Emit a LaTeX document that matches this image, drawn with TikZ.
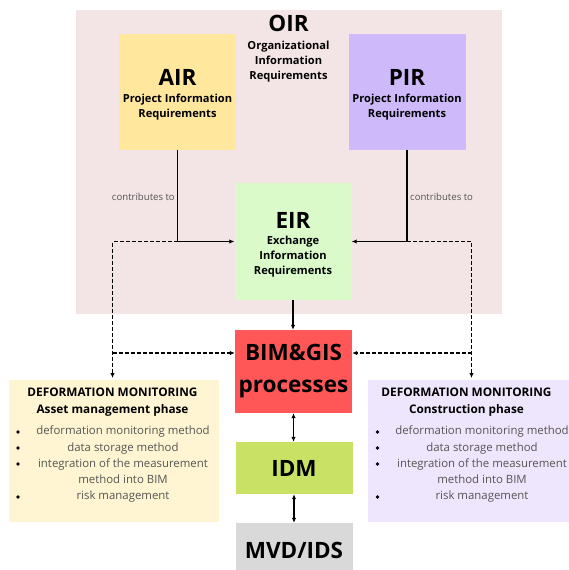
\documentclass[tikz,border=0pt]{standalone}
\usepackage{fontspec}
\setmainfont{Open Sans}
\usepackage{xcolor}
\usepackage{tikz}
\usetikzlibrary{arrows.meta}
\definecolor{oirbg}{HTML}{F3E5E6}
\definecolor{airyellow}{HTML}{FFE79D}
\definecolor{pirviolet}{HTML}{CEB9FB}
\definecolor{eirgreen}{HTML}{DAFACA}
\definecolor{bimred}{HTML}{FF5757}
\definecolor{idmgreen}{HTML}{C9E265}
\definecolor{mvdgray}{HTML}{D9D9D9}
\definecolor{assetcream}{HTML}{FFF5D2}
\definecolor{constrlilac}{HTML}{EEE6FD}
\definecolor{itemgray}{HTML}{555555}

\begin{document}
\begin{tikzpicture}[x=1pt,y=-1pt,
  boxnode/.style={inner sep=0pt,minimum width=117pt},
  titletxt/.style={inner sep=0pt,font=\fontsize{22.5}{32}\selectfont\bfseries,align=center},
  subtxt/.style={inner sep=0pt,font=\fontsize{11.1}{15}\selectfont\bfseries,align=center},
  headtxt/.style={inner sep=0pt,font=\fontsize{11.8}{17}\selectfont\bfseries,align=center},
  itemtxt/.style={inner sep=0pt,font=\fontsize{11.4}{16.25}\selectfont,text=itemgray,align=center},
  notetxt/.style={inner sep=0pt,font=\fontsize{9.6}{10}\selectfont,text=itemgray},
  arr/.style={line width=1.3pt,-{Latex[length=5pt,width=4.5pt]}},
  dasharr/.style={arr,dash pattern=on 4pt off 2pt},
  twoarr/.style={line width=1.3pt,{Latex[length=5pt,width=4.5pt]}-{Latex[length=5pt,width=4.5pt]}}]
\clip (0,0) rectangle (569,570);
\fill[white] (0,0) rectangle (569,570);
%OIR
\node[fill=oirbg,inner sep=0pt,minimum width=426pt,minimum height=303.5pt] (oir) at (289,162) {};
\node[titletxt] (oirt) at (288.5,23) {OIR};
\node[subtxt] (oirs) at (288.5,61.5) {Organizational\\Information\\Requirements};
%AIR, PIR
\node[boxnode,fill=airyellow,minimum height=116pt] (air) at (177.5,92) {};
\node[titletxt] (airt) at (177.5,77) {AIR};
\node[subtxt] (airs) at (177.5,107.5) {Project Information\\Requirements};
\node[boxnode,fill=pirviolet,minimum height=116pt] (pir) at (407,92) {};
\node[titletxt] (pirt) at (407,77) {PIR};
\node[subtxt] (pirs) at (407,107.5) {Project Information\\Requirements};
%EIR
\node[boxnode,fill=eirgreen,minimum height=117pt] (eir) at (293,241.5) {};
\node[titletxt] (eirt) at (293,220) {EIR};
\node[subtxt] (eirs) at (293,257) {Exchange\\Information\\Requirements};
\node[notetxt,anchor=east] (cl) at (175,197) {contributes to};
\node[notetxt,anchor=west] (cr) at (410,197) {contributes to};
%BIM, IDM, MVD
\node[boxnode,fill=bimred,minimum height=83pt] (bim) at (293.5,371.5) {};
\node[titletxt] (bimt) at (293.5,371) {BIM\&GIS\\processes};
\node[boxnode,fill=idmgreen,minimum height=52pt] (idm) at (294,468) {};
\node[titletxt] (idmt) at (294,468) {IDM};
\node[boxnode,fill=mvdgray,minimum height=50pt] (mvd) at (294,548) {};
\node[titletxt] (mvdt) at (294,550) {MVD/IDS};
%phases
\node[fill=assetcream,inner sep=0pt,minimum width=210pt,minimum height=142pt] (asset) at (114,451) {};
\node[headtxt] (assett) at (112.5,402.5) {DEFORMATION MONITORING\\Asset management phase};
\node[itemtxt] (asseti) at (123,464.5) {deformation monitoring method\\data storage method\\integration of the measurement\\method into BIM\\risk management};
\node[fill=constrlilac,inner sep=0pt,minimum width=210pt,minimum height=142pt] (constr) at (472.5,451) {};
\node[headtxt] (constrt) at (466.5,402.5) {DEFORMATION MONITORING\\Construction phase};
\node[itemtxt] (constri) at (482,464.5) {deformation monitoring method\\data storage method\\integration of the measurement\\method into BIM\\risk management};
\foreach \yy in {432,448,464,497} {
  \fill (18,\yy) circle (1.9);
  \fill (377.5,\yy) circle (1.9);
}
%arrows
\coordinate (ldown) at (112.5,378);
\coordinate (rdown) at (471.5,378);
\coordinate (lmid) at (112.5,353);
\coordinate (rmid) at (471.5,353);
\draw[arr] (air.south) |- (eir.west);
\draw[arr] (pir.south) |- (eir.east);
\draw[dasharr] (air.south |- eir.west) -| (ldown);
\draw[dasharr] (pir.south |- eir.east) -| (rdown);
\draw[dasharr] (lmid) -- (lmid -| bim.west);
\draw[dasharr] (rmid) -- (rmid -| bim.east);
\draw[arr] (eir.south) -- (eir.south |- bim.north);
\draw[twoarr] (bim.south) -- (bim.south |- idm.north);
\draw[twoarr] (idm.south) -- (idm.south |- mvd.north);
\end{tikzpicture}
\end{document}
